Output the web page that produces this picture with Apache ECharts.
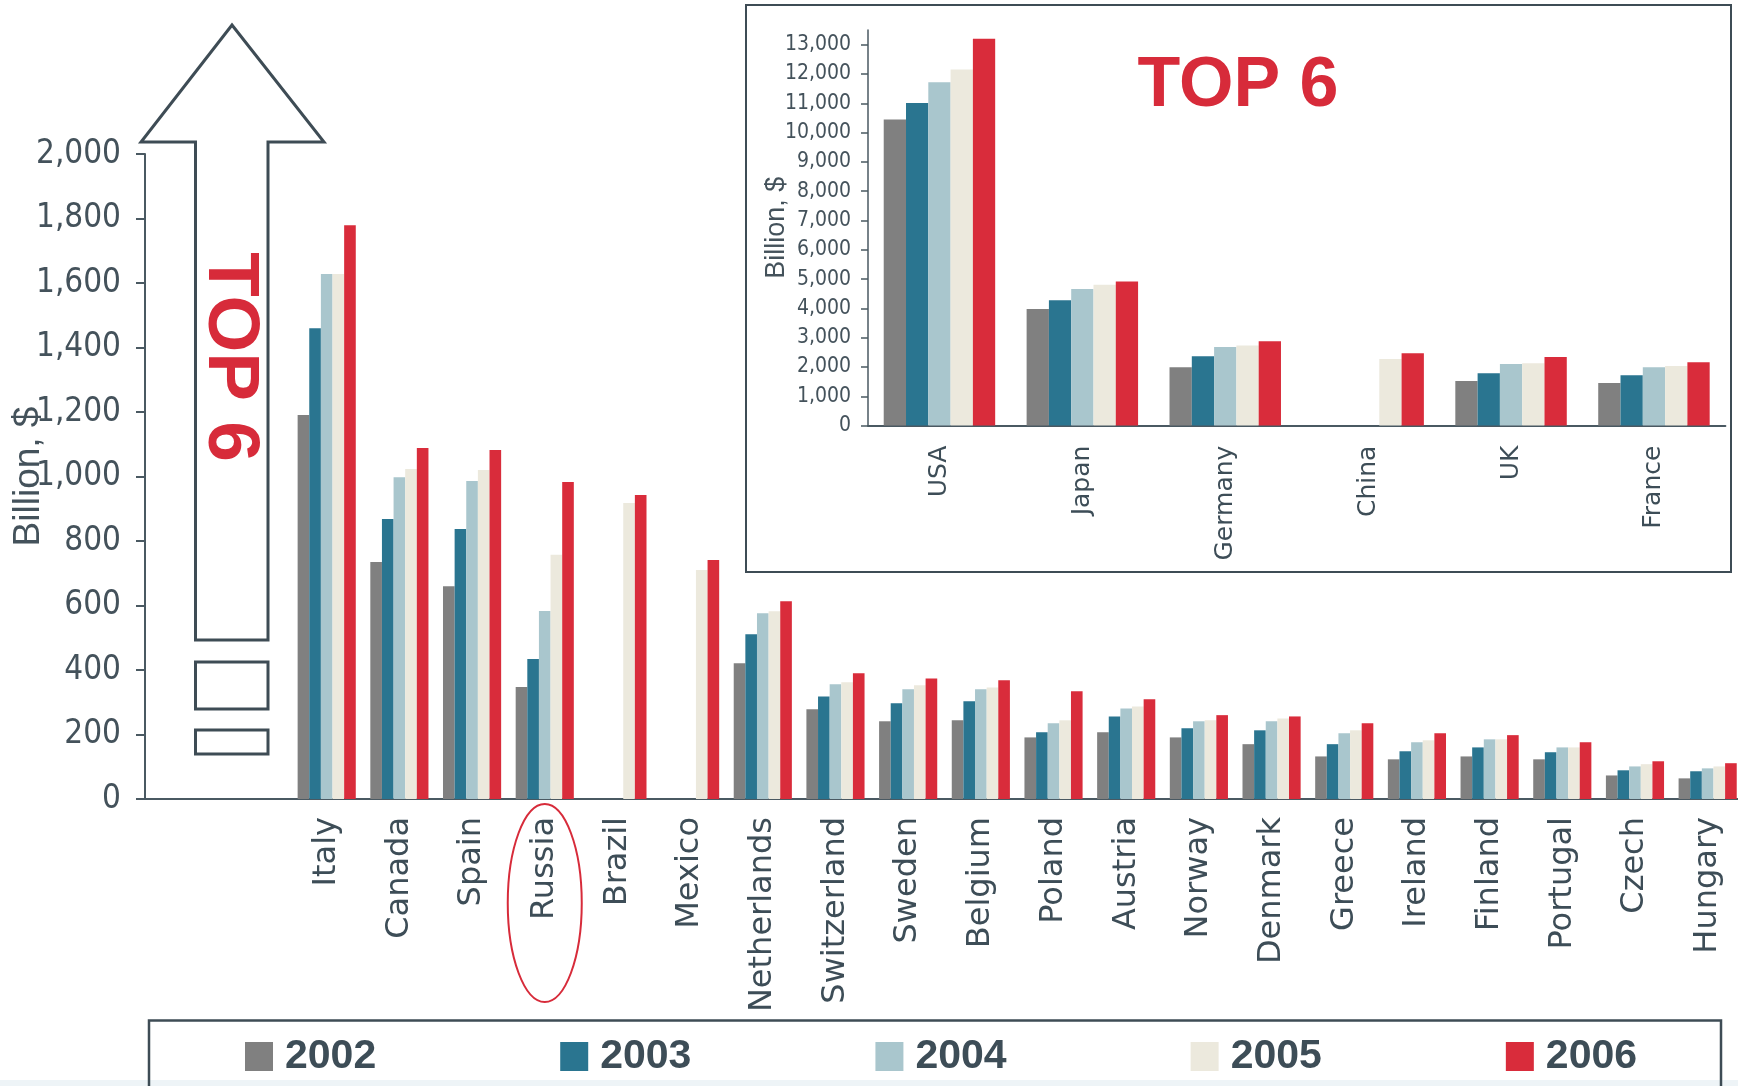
<!DOCTYPE html>
<html>
<head>
<meta charset="utf-8">
<script src="https://cdn.jsdelivr.net/npm/echarts@6/dist/echarts.min.js"></script>
<style>
  html, body { margin: 0; padding: 0; background: #fff; }
  #chart { width: 1738px; height: 1086px; }
</style>
</head>
<body>
<div id="chart"></div>
<script>
// years / colours
const years = ['2002', '2003', '2004', '2005', '2006'];
const colors = ['#808080', '#2a7590', '#a9c6cd', '#ece9dd', '#d92c3b'];

// main chart: two empty slots under the arrow, then the countries
const countries = ['', ' ', 'Italy', 'Canada', 'Spain', 'Russia', 'Brazil', 'Mexico',
  'Netherlands', 'Switzerland', 'Sweden', 'Belgium', 'Poland', 'Austria', 'Norway',
  'Denmark', 'Greece', 'Ireland', 'Finland', 'Portugal', 'Czech', 'Hungary'];
const gdp2002 = [null, null, 1191, 735, 660, 347, null, null, 421, 278, 241, 244, 191, 207, 191, 170, 132, 123, 132, 123, 73, 64];
const gdp2003 = [null, null, 1460, 868, 837, 434, null, null, 511, 318, 297, 303, 207, 256, 219, 213, 170, 148, 160, 145, 89, 86];
const gdp2004 = [null, null, 1628, 998, 986, 583, null, null, 576, 356, 340, 340, 235, 281, 241, 241, 204, 176, 185, 160, 101, 95];
const gdp2005 = [null, null, 1628, 1023, 1020, 757, 918, 710, 582, 362, 353, 346, 244, 287, 244, 250, 213, 182, 185, 160, 108, 101];
const gdp2006 = [null, null, 1779, 1088, 1082, 983, 943, 741, 613, 390, 374, 368, 334, 309, 260, 256, 235, 204, 198, 176, 117, 111];

// inset: top 6
const top6 = ['USA', 'Japan', 'Germany', 'China', 'UK', 'France'];
const top2002 = [10450, 3980, 1990, null, 1520, 1450];
const top2003 = [11010, 4280, 2370, null, 1790, 1720];
const top2004 = [11720, 4660, 2680, null, 2100, 1990];
const top2005 = [12150, 4810, 2730, 2270, 2130, 2030];
const top2006 = [13200, 4920, 2880, 2470, 2340, 2160];

const mainData = [gdp2002, gdp2003, gdp2004, gdp2005, gdp2006];
const topData = [top2002, top2003, top2004, top2005, top2006];

const ink = '#3e4c55';
const axisInk = '#4a5962';
const narrow = "'Liberation Sans Narrow', 'DejaVu Sans Condensed', 'Liberation Sans', sans-serif";
const fmt = v => v.toLocaleString('en-US');

const chart = echarts.init(document.getElementById('chart'));

const series = [];
years.forEach((y, i) => {
  series.push({
    name: y, type: 'bar', xAxisIndex: 0, yAxisIndex: 0,
    data: mainData[i], barGap: 0, barCategoryGap: '20%',
    itemStyle: { color: colors[i] }
  });
});
years.forEach((y, i) => {
  series.push({
    name: y, type: 'bar', xAxisIndex: 1, yAxisIndex: 1,
    data: topData[i], barGap: 0, barCategoryGap: '22%',
    itemStyle: { color: colors[i] }
  });
});

const option = {
  animation: false,
  backgroundColor: '#fff',
  legend: {
    data: years,
    left: 240,
    top: 1031,
    icon: 'rect',
    itemWidth: 28,
    itemHeight: 29,
    itemGap: 184,
    selectedMode: false,
    textStyle: {
      fontSize: 41, fontWeight: 'bold', color: '#3d4d57',
      fontFamily: "'Liberation Sans', Arial, sans-serif",
      padding: [0, 0, 0, 7]
    }
  },
  grid: [
    { left: 145, right: -6, top: 154, bottom: 287, outerBoundsMode: 'none' },
    { left: 868, right: 12.6, top: 30, bottom: 660.4, outerBoundsMode: 'none' }
  ],
  xAxis: [
    {
      type: 'category', gridIndex: 0, data: countries,
      axisLine: { lineStyle: { color: axisInk, width: 2 } },
      axisTick: { length: 10, lineStyle: { color: axisInk, width: 2 } },
      axisLabel: {
        rotate: 90, interval: 0, margin: 18, fontSize: 32,
        fontFamily: "'DejaVu Sans', sans-serif", color: '#3d4d57'
      }
    },
    {
      type: 'category', gridIndex: 1, data: top6,
      axisLine: { lineStyle: { color: axisInk, width: 2 } },
      axisTick: { length: 10, lineStyle: { color: axisInk, width: 1.5 } },
      axisLabel: {
        rotate: 90, interval: 0, margin: 20, fontSize: 25,
        fontFamily: "'DejaVu Sans', sans-serif", color: '#3d4d57'
      }
    }
  ],
  yAxis: [
    {
      type: 'value', gridIndex: 0, min: 0, max: 2000, interval: 200,
      name: 'Billion, $', nameLocation: 'middle', nameGap: 98, nameMoveOverlap: false,
      nameTextStyle: { fontSize: 37, color: '#44525b', fontFamily: "'Liberation Sans', Arial, sans-serif" },
      axisLine: { show: true, lineStyle: { color: axisInk, width: 2 } },
      axisTick: { show: true, length: 9, lineStyle: { color: axisInk, width: 2 } },
      splitLine: { show: false },
      axisLabel: { fontSize: 33, fontFamily: narrow, color: '#44525b', margin: 24, formatter: fmt }
    },
    {
      type: 'value', gridIndex: 1, min: 0, max: 13500, interval: 1000,
      name: 'Billion, $', nameLocation: 'middle', nameGap: 78, nameMoveOverlap: false,
      nameTextStyle: { fontSize: 27, color: '#44525b', fontFamily: "'Liberation Sans', Arial, sans-serif" },
      axisLine: { show: true, lineStyle: { color: axisInk, width: 1.5 } },
      axisTick: { show: true, length: 7, lineStyle: { color: axisInk, width: 1.5 } },
      splitLine: { show: false },
      axisLabel: { fontSize: 21, fontFamily: narrow, color: '#44525b', margin: 17, formatter: fmt, showMaxLabel: false }
    }
  ],
  series: series
};

chart.setOption(option);

// annotations: arrow, inset frame, TOP 6 labels, ellipse round Russia, legend frame
const russiaX = chart.convertToPixel({ xAxisIndex: 0 }, 'Russia');
chart.setOption({
  graphic: [
    {
      type: 'rect', z: 0, silent: true,
      shape: { x: 746, y: 5, width: 985, height: 567 },
      style: { fill: 'none', stroke: ink, lineWidth: 2 }
    },
    {
      type: 'polygon', z: 0, silent: true,
      shape: { points: [[232, 25], [324, 142], [268, 142], [268, 640], [195.5, 640], [195.5, 142], [141, 142]] },
      style: { fill: '#fff', stroke: ink, lineWidth: 3 }
    },
    {
      type: 'rect', silent: true,
      shape: { x: 195.5, y: 662, width: 72.5, height: 47 },
      style: { fill: '#fff', stroke: ink, lineWidth: 3 }
    },
    {
      type: 'rect', silent: true,
      shape: { x: 195.5, y: 730, width: 72.5, height: 24 },
      style: { fill: '#fff', stroke: ink, lineWidth: 3 }
    },
    {
      type: 'text', silent: true, x: 229, y: 357, rotation: -Math.PI / 2,
      style: {
        text: 'TOP 6', fill: '#d72b3a', fontSize: 73, fontWeight: 'bold',
        fontFamily: "'Liberation Sans', Arial, sans-serif", align: 'center', verticalAlign: 'middle'
      }
    },
    {
      type: 'text', silent: true, x: 1238, y: 87,
      style: {
        text: 'TOP 6', fill: '#d72b3a', fontSize: 70, fontWeight: 'bold',
        fontFamily: "'Liberation Sans', Arial, sans-serif", align: 'center', verticalAlign: 'middle'
      }
    },
    {
      type: 'ellipse', silent: true,
      shape: { cx: russiaX, cy: 903, rx: 37, ry: 99 },
      style: { fill: 'none', stroke: '#d72b3a', lineWidth: 2 }
    },
    {
      type: 'rect', silent: true, z: -1,
      shape: { x: 149, y: 1020.5, width: 1572, height: 80 },
      style: { fill: 'none', stroke: ink, lineWidth: 2.5 }
    },
    {
      type: 'rect', silent: true, z: -2,
      shape: { x: 0, y: 1080, width: 1738, height: 6 },
      style: { fill: '#eef4f7' }
    }
  ]
});
</script>
</body>
</html>
